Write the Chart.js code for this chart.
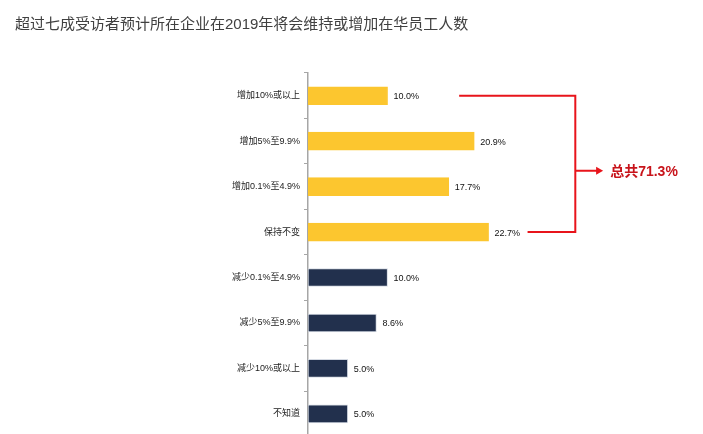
<!DOCTYPE html>
<html>
<head>
<meta charset="utf-8">
<script src="https://cdn.jsdelivr.net/npm/chart.js@4/dist/chart.umd.min.js"></script>
<style>
  html, body { margin: 0; padding: 0; background: #fff; overflow: hidden; }
  #wrap { position: relative; width: 703px; height: 446px; }
  #titulo {
    position: absolute; left: 15px; top: 12px;
    font: 15px "Liberation Sans", "Noto Sans CJK SC", sans-serif;
    color: #404040; white-space: nowrap;
  }
</style>
</head>
<body>
<div id="wrap">
  <div id="titulo">超过七成受访者预计所在企业在2019年将会维持或增加在华员工人数</div>
  <canvas id="grafico" width="703" height="446"></canvas>
</div>
<script>
// ---- datos ----
const categorias = ['增加10%或以上', '增加5%至9.9%', '增加0.1%至4.9%', '保持不变',
                    '减少0.1%至4.9%', '减少5%至9.9%', '减少10%或以上', '不知道'];
const valores = [10.0, 20.9, 17.7, 22.7, 10.0, 8.6, 5.0, 5.0];
const grupoAumento = 4;          // las primeras 4 barras: mantener o aumentar
const totalTexto = '总共71.3%';

const AMARILLO = '#FCC62F';
const AZUL = '#22304D';
const ROJO = '#E8141B';
const FUENTE = '"Liberation Sans", "Noto Sans CJK SC", sans-serif';

// etiquetas de valor al final de cada barra
const etiquetasValor = {
    id: 'etiquetasValor',
    afterDatasetsDraw(chart) {
        const ctx = chart.ctx;
        const meta = chart.getDatasetMeta(0);
        ctx.save();
        ctx.font = '9px ' + FUENTE;
        ctx.fillStyle = '#111';
        ctx.textBaseline = 'middle';
        meta.data.forEach((bar, i) => {
            ctx.fillText(valores[i].toFixed(1) + '%', bar.x + 6, bar.y + 1);
        });
        ctx.restore();
    }
};

// corchete rojo que agrupa las 4 primeras categorías
const corchete = {
    id: 'corchete',
    afterDatasetsDraw(chart) {
        const ctx = chart.ctx;
        const x = chart.scales.x;
        const meta = chart.getDatasetMeta(0);
        const yArriba = meta.data[0].y;
        const yAbajo = meta.data[grupoAumento - 1].y;
        const xBracket = x.getPixelForValue(33.6);
        const yFlecha = yArriba + (yAbajo - yArriba) * 0.55;
        const xFlecha = x.getPixelForValue(37.1);

        ctx.save();
        ctx.strokeStyle = ROJO;
        ctx.lineWidth = 2;
        ctx.beginPath();
        ctx.moveTo(x.getPixelForValue(19.0), yArriba);
        ctx.lineTo(xBracket, yArriba);
        ctx.lineTo(xBracket, yAbajo);
        ctx.lineTo(x.getPixelForValue(27.6), yAbajo);
        ctx.moveTo(xBracket, yFlecha);
        ctx.lineTo(xFlecha - 5, yFlecha);
        ctx.stroke();

        ctx.fillStyle = ROJO;
        ctx.beginPath();
        ctx.moveTo(xFlecha, yFlecha);
        ctx.lineTo(xFlecha - 7, yFlecha - 4);
        ctx.lineTo(xFlecha - 7, yFlecha + 4);
        ctx.closePath();
        ctx.fill();

        ctx.font = 'bold 14px ' + FUENTE;
        ctx.fillStyle = '#C8141B';
        ctx.textBaseline = 'middle';
        ctx.fillText(totalTexto, xFlecha + 7, yFlecha + 1);
        ctx.restore();
    }
};

new Chart(document.getElementById('grafico'), {
    type: 'bar',
    data: {
        labels: categorias,
        datasets: [{
            data: valores,
            backgroundColor: valores.map((_, i) => i < grupoAumento ? AMARILLO : AZUL),
            borderColor: valores.map((_, i) => i < grupoAumento ? AMARILLO : '#d5dae3'),
            borderWidth: 1,
            borderSkipped: false,
            barThickness: 18
        }]
    },
    options: {
        indexAxis: 'y',
        responsive: false,
        animation: false,
        layout: { padding: { top: 73, right: 37, bottom: 2, left: 0 } },
        plugins: {
            legend: { display: false },
            tooltip: { enabled: false },
            title: { display: false }
        },
        scales: {
            x: {
                display: false,
                min: 0,
                max: 45
            },
            y: {
                afterFit(scale) { scale.width = 308; },
                grid: {
                    drawOnChartArea: false,
                    drawTicks: true,
                    tickLength: 4,
                    color: '#a6a6a6',
                    offset: true
                },
                border: { display: true, color: '#a6a6a6', width: 1.5 },
                ticks: {
                    padding: 4,
                    color: '#222',
                    font: { size: 9, family: FUENTE }
                }
            }
        }
    },
    plugins: [etiquetasValor, corchete]
});
</script>
</body>
</html>
